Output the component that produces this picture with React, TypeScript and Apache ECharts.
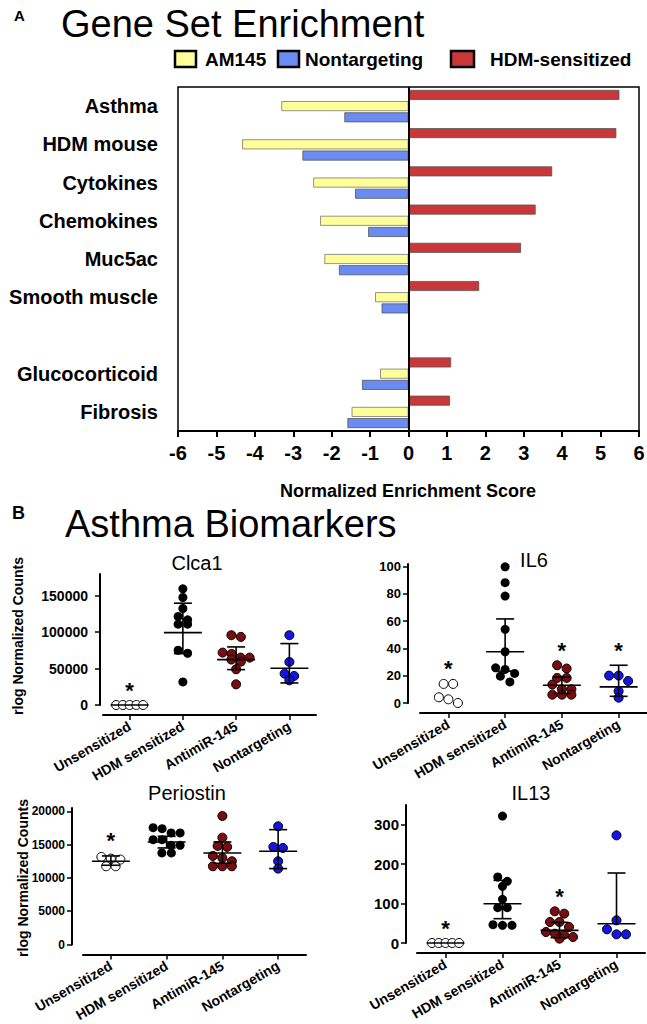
import React, { useEffect, useRef } from "react";
import * as echarts from "echarts";

// ---------- Panel A data ----------
const geneSets = ["Asthma", "HDM mouse", "Cytokines", "Chemokines", "Muc5ac", "Smooth muscle", "", "Glucocorticoid", "Fibrosis"];
const hdmSensitizedNES = [5.49, 5.41, 3.74, 3.31, 2.93, 1.84, null, 1.11, 1.08];
const am145NES = [-3.31, -4.33, -2.48, -2.3, -2.19, -0.87, null, -0.74, -1.48];
const nontargetingNES = [-1.67, -2.76, -1.39, -1.05, -1.81, -0.7, null, -1.21, -1.59];
const nesMin = -6;
const nesMax = 6;

// ---------- Panel B data ----------
const groups = ["Unsensitized", "HDM sensitized", "AntimiR-145", "Nontargeting"];

const clca1Unsens = [0, 0, 0, 0, 0];
const clca1Hdm = [159600, 147700, 132600, 121600, 117000, 111000, 111000, 75200, 71100, 31700];
const clca1Anti = [95900, 93600, 72000, 70200, 65100, 65100, 62400, 59600, 49100, 28400];
const clca1Non = [95900, 59200, 43100, 39900, 33900];
const clca1Mean = [0, 99500, 62400, 50500];
const clca1Lo = [0, 70600, 48600, 30300];
const clca1Hi = [0, 139900, 79800, 84400];
const clca1Star = [true, false, false, false];
const clca1Ticks = [0, 50000, 100000, 150000];

const il6Unsens = [14.0, 14.0, 4.2, 2.7, 0];
const il6Hdm = [99.9, 88.3, 78.5, 54.1, 37.6, 25.8, 24.6, 21.7, 19.7, 15.5];
const il6Anti = [27.7, 25.3, 18.4, 18.4, 13.5, 10.1, 10.1, 6.1, 6.1, 6.1];
const il6Non = [20.1, 20.1, 16.2, 8.6, 3.9];
const il6Mean = [null, 37.6, 13.0, 11.8];
const il6Lo = [null, 23.4, 7.0, 4.9];
const il6Hi = [null, 61.7, 19.1, 27.7];
const il6Star = [true, false, true, true];
const il6Ticks = [0, 20, 40, 60, 80, 100];

const postnUnsens = [13150, 12900, 12750, 11750, 11750];
const postnHdm = [17550, 17400, 16750, 16750, 15750, 15750, 14900, 14900, 13750, 13750];
const postnAnti = [19300, 16050, 14800, 14650, 13300, 13000, 12500, 11750, 11750, 11750];
const postnNon = [17750, 14650, 14500, 12500, 11400];
const postnMean = [12500, 15400, 13750, 14000];
const postnLo = [11900, 14500, 12200, 11400];
const postnHi = [13300, 16250, 15400, 17250];
const postnStar = [true, false, false, false];
const postnTicks = [0, 5000, 10000, 15000, 20000];

const il13Unsens = [0, 0, 0, 0, 0];
const il13Hdm = [322, 167.4, 156.4, 143.7, 110.7, 89.6, 89.6, 46.5, 44.8, 44.8];
const il13Anti = [80.3, 74.4, 53.3, 53.3, 40.6, 27.9, 23.7, 21.1, 15.2, 11.0];
const il13Non = [273, 57.5, 34.7, 22, 22];
const il13Mean = [0, 99.7, 32.1, 49];
const il13Lo = [0, 61.7, 13.5, null];
const il13Hi = [0, 158.9, 52.4, 177.5];
const il13Star = [true, false, true, false];
const il13Ticks = [0, 100, 200, 300];

const FONT = "Liberation Sans, Arial, Helvetica, sans-serif";
const groupFill = ["#ffffff", "#000000", "#7a0d0d", "#1414e6"];

type Panel = {
  title: string;
  sets: number[][];
  mean: (number | null)[];
  lo: (number | null)[];
  hi: (number | null)[];
  star: boolean[];
  ticks: number[];
  max: number;
  grid: { left: number; top: number; width: number; height: number };
  yOffset: number;
  labelSize: number;
  labelMargin: number;
  titlePos: [number, number];
};

const panels: Panel[] = [
  {
    title: "Clca1",
    sets: [clca1Unsens, clca1Hdm, clca1Anti, clca1Non],
    mean: clca1Mean, lo: clca1Lo, hi: clca1Hi, star: clca1Star, ticks: clca1Ticks,
    max: 180000,
    grid: { left: 103, top: 574, width: 213, height: 131 },
    yOffset: 3, labelSize: 14, labelMargin: 12, titlePos: [197, 563],
  },
  {
    title: "IL6",
    sets: [il6Unsens, il6Hdm, il6Anti, il6Non],
    mean: il6Mean, lo: il6Lo, hi: il6Hi, star: il6Star, ticks: il6Ticks,
    max: 102,
    grid: { left: 420, top: 564, width: 227, height: 139 },
    yOffset: 12, labelSize: 13, labelMargin: 7, titlePos: [534, 560],
  },
  {
    title: "Periostin",
    sets: [postnUnsens, postnHdm, postnAnti, postnNon],
    mean: postnMean, lo: postnLo, hi: postnHi, star: postnStar, ticks: postnTicks,
    max: 20500,
    grid: { left: 83, top: 808, width: 223, height: 136.5 },
    yOffset: 11, labelSize: 12, labelMargin: 7, titlePos: [187, 793],
  },
  {
    title: "IL13",
    sets: [il13Unsens, il13Hdm, il13Anti, il13Non],
    mean: il13Mean, lo: il13Lo, hi: il13Hi, star: il13Star, ticks: il13Ticks,
    max: 350,
    grid: { left: 417, top: 805, width: 228, height: 138 },
    yOffset: 11, labelSize: 15, labelMargin: 7, titlePos: [531, 793],
  },
];

// Prism-like row scatter: points of similar value share a row, spread symmetrically
function swarm(values: number[], cat: number, pxPerUnit: number, pxPerCat: number) {
  const sorted = [...values].sort((a, b) => b - a);
  const rows: number[][] = [];
  for (const v of sorted) {
    const row = rows[rows.length - 1];
    if (row && Math.abs(row[0] - v) * pxPerUnit < 6) row.push(v);
    else rows.push([v]);
  }
  const pts: number[][] = [];
  rows.forEach((row) => {
    const n = row.length;
    const stepPx = n > 1 ? Math.min(9.5, 27 / (n - 1)) : 0;
    row.forEach((v, k) => pts.push([cat + ((k - (n - 1) / 2) * stepPx) / pxPerCat, v]));
  });
  return pts;
}

function isNum(v: any) {
  return typeof v === "number" && isFinite(v);
}

function buildOption() {
  const grids: any[] = [];
  const xAxes: any[] = [];
  const yAxes: any[] = [];
  const series: any[] = [];
  const graphics: any[] = [];

  // ----- Panel A -----
  grids.push({
    left: 178, top: 87, width: 461, height: 344, show: true, borderColor: "#000", borderWidth: 1.5,
    outerBoundsMode: "none", containLabel: false,
  });
  xAxes.push({
    type: "value", gridIndex: 0, min: nesMin, max: nesMax, interval: 1,
    axisLine: { show: true, onZero: false, lineStyle: { color: "#000", width: 2 } },
    axisTick: { show: true, length: 6, lineStyle: { color: "#000", width: 2 } },
    axisLabel: { color: "#000", fontSize: 20, fontWeight: "bold", fontFamily: FONT, margin: 12 },
    splitLine: { show: false },
  });
  yAxes.push({
    type: "category", gridIndex: 0, data: geneSets, inverse: true,
    axisLine: { show: false, onZero: false }, axisTick: { show: false },
    axisLabel: { color: "#000", fontSize: 20, fontWeight: "bold", fontFamily: FONT, margin: 20 },
  });
  const barCommon = { type: "bar", xAxisIndex: 0, yAxisIndex: 0, barWidth: 10, barGap: "12%" };
  series.push({
    ...barCommon, name: "HDM-sensitized", data: hdmSensitizedNES,
    itemStyle: { color: "#c8373a", borderColor: "#555", borderWidth: 0.8 },
    markLine: {
      silent: true, symbol: ["none", "none"], label: { show: false },
      lineStyle: { color: "#000", width: 2, type: "solid" }, data: [{ xAxis: 0 }],
    },
  });
  series.push({ ...barCommon, name: "AM145", data: am145NES, itemStyle: { color: "#ffff99", borderColor: "#777", borderWidth: 0.8 } });
  series.push({ ...barCommon, name: "Nontargeting", data: nontargetingNES, itemStyle: { color: "#6a8cf2", borderColor: "#555", borderWidth: 0.8 } });

  // ----- Panel B -----
  panels.forEach((p, i) => {
    const gi = i + 1;
    grids.push({ ...p.grid, outerBoundsMode: "none", containLabel: false });
    xAxes.push({
      type: "category", gridIndex: gi, data: groups, position: "bottom", offset: 10,
      axisLine: { show: true, onZero: false, lineStyle: { color: "#000", width: 2 } },
      axisTick: { show: true, alignWithLabel: true, length: 5, lineStyle: { color: "#000", width: 1.5 } },
      axisLabel: { rotate: 30, interval: 0, color: "#000", fontSize: 14, fontWeight: "bold", fontFamily: FONT, margin: 10 },
    });
    const valX = xAxes.length;
    xAxes.push({
      type: "value", gridIndex: gi, min: -0.5, max: 3.5, show: false,
      axisLine: { show: false, onZero: false }, splitLine: { show: false },
    });
    const yi = yAxes.length;
    yAxes.push({
      type: "value", gridIndex: gi, min: 0, max: p.max, offset: p.yOffset, position: "left",
      axisLine: { show: true, onZero: false, lineStyle: { color: "#000", width: 2 } },
      axisTick: { show: true, length: 5, customValues: p.ticks, lineStyle: { color: "#000", width: 1.5 } },
      axisLabel: {
        customValues: p.ticks, color: "#000", fontSize: p.labelSize, fontWeight: "bold", fontFamily: FONT,
        margin: p.labelMargin, formatter: (v: number) => String(v),
      },
      splitLine: { show: false },
    });
    const pxPerUnit = p.grid.height / p.max;
    const pxPerCat = p.grid.width / 4;
    p.sets.forEach((vals, g) => {
      series.push({
        type: "scatter", xAxisIndex: valX, yAxisIndex: yi, symbol: "circle", symbolSize: 9, z: 3,
        data: swarm(vals, g, pxPerUnit, pxPerCat),
        itemStyle: { color: groupFill[g], borderColor: "#000", borderWidth: g === 1 ? 0 : 1, opacity: 1 },
      });
    });
    const errData = groups.map((_, g) => [g, p.mean[g] ?? NaN, p.lo[g] ?? NaN, p.hi[g] ?? NaN]);
    series.push({
      type: "custom", xAxisIndex: valX, yAxisIndex: yi, z: 4, silent: true,
      data: errData,
      renderItem: (_params: any, api: any) => {
        const cat = api.value(0);
        const mean = api.value(1);
        const lo = api.value(2);
        const hi = api.value(3);
        const children: any[] = [];
        const style = { stroke: "#000", lineWidth: 1.6 };
        if (isNum(mean)) {
          const m = api.coord([cat, mean]);
          children.push({ type: "line", shape: { x1: m[0] - 19, y1: m[1], x2: m[0] + 19, y2: m[1] }, style });
          [hi, lo].forEach((e) => {
            if (isNum(e) && e !== mean) {
              const c = api.coord([cat, e]);
              children.push({ type: "line", shape: { x1: m[0], y1: m[1], x2: c[0], y2: c[1] }, style });
              children.push({ type: "line", shape: { x1: c[0] - 9, y1: c[1], x2: c[0] + 9, y2: c[1] }, style });
            }
          });
        }
        return { type: "group", children };
      },
    });
    const starData: number[][] = [];
    p.star.forEach((s, g) => {
      if (!s) return;
      const cands = [...p.sets[g]];
      if (isNum(p.hi[g])) cands.push(p.hi[g] as number);
      starData.push([g, Math.max(...cands)]);
    });
    series.push({
      type: "custom", xAxisIndex: valX, yAxisIndex: yi, z: 4, silent: true,
      data: starData,
      renderItem: (_params: any, api: any) => {
        const c = api.coord([api.value(0), api.value(1)]);
        return {
          type: "text", x: c[0], y: c[1] - 15,
          style: { text: "*", fontSize: 22, fontWeight: "bold", fontFamily: FONT, fill: "#000", align: "center", verticalAlign: "middle" },
        };
      },
    });
    graphics.push({
      type: "text", x: p.titlePos[0], y: p.titlePos[1],
      style: { text: p.title, fontSize: 20, fontFamily: FONT, fill: "#000", align: "center", verticalAlign: "middle" },
    });
  });

  // ----- Texts & legend -----
  const txt = (text: string, x: number, y: number, size: number, bold: boolean, align = "left", rotation = 0) => ({
    type: "text", x, y, rotation,
    style: { text, fontSize: size, fontWeight: bold ? "bold" : "normal", fontFamily: FONT, fill: "#000", align, verticalAlign: "middle" },
  });
  graphics.push(txt("A", 19.5, 15, 15, true, "center"));
  graphics.push(txt("Gene Set Enrichment", 61, 24, 38, false));
  graphics.push(txt("B", 18.5, 513, 18, true, "center"));
  graphics.push(txt("Asthma Biomarkers", 65, 524, 38, false));
  graphics.push(txt("Normalized Enrichment Score", 408, 491, 18, true, "center"));
  graphics.push(txt("rlog Normalized Counts", 18, 636, 14, true, "center", Math.PI / 2));
  graphics.push(txt("rlog Normalized Counts", 23, 878, 14, true, "center", Math.PI / 2));
  const legendItems: [string, string, number, number, number][] = [
    ["AM145", "#ffff99", 175, 21, 205],
    ["Nontargeting", "#6a8cf2", 278, 21, 305],
    ["HDM-sensitized", "#c8373a", 451, 23, 490],
  ];
  legendItems.forEach(([name, color, bx, bw, tx]) => {
    graphics.push({ type: "rect", shape: { x: bx, y: 51, width: bw, height: 16 }, style: { fill: color, stroke: "#000", lineWidth: 2.5 } });
    graphics.push(txt(name, tx, 59, 19, true));
  });

  return {
    animation: false,
    backgroundColor: "#fff",
    grid: grids,
    xAxis: xAxes,
    yAxis: yAxes,
    series,
    graphic: graphics,
  };
}

export default function App() {
  const ref = useRef<HTMLDivElement>(null);
  useEffect(() => {
    if (!ref.current) return;
    const chart = echarts.init(ref.current, undefined, { renderer: "svg" });
    chart.setOption(buildOption() as any);
    return () => chart.dispose();
  }, []);
  return <div ref={ref} style={{ position: "fixed", left: 0, top: 0, width: 647, height: 1024, background: "#fff" }} />;
}
